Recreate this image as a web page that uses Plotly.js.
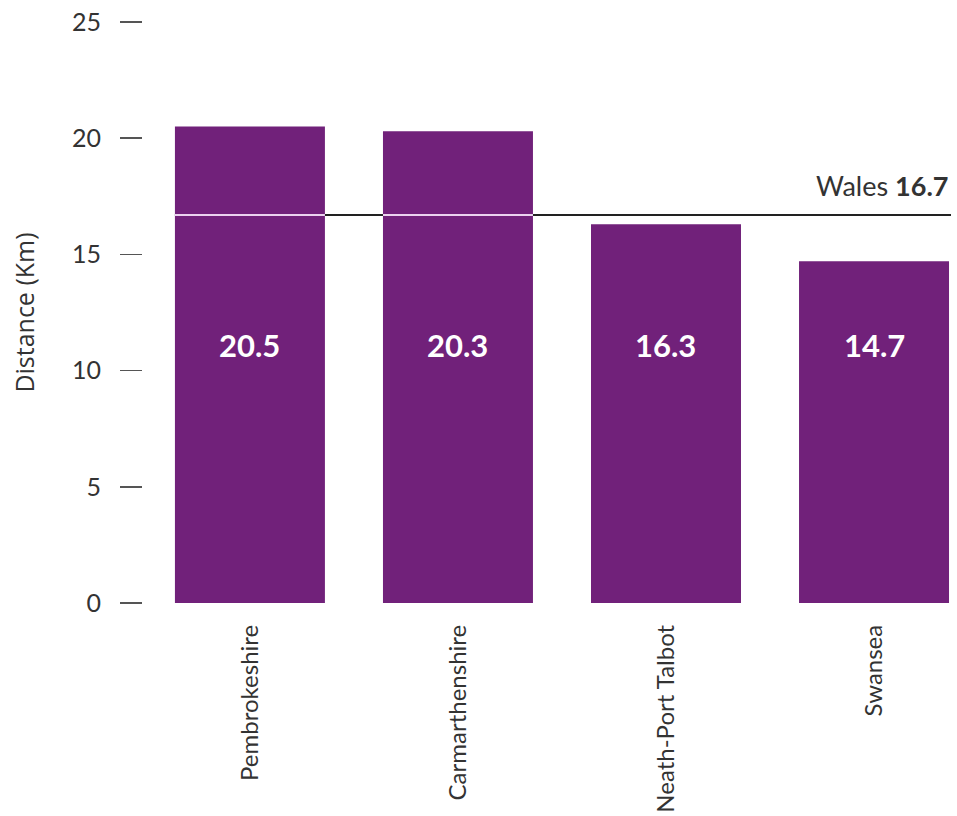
<!DOCTYPE html>
<html>
<head>
<meta charset="utf-8">
<script src="https://cdn.plot.ly/plotly-3.0.1.min.js"></script>
<style>html,body{margin:0;padding:0;background:#fff;}#chart{width:957px;height:816px;}</style>
</head>
<body>
<div id="chart"></div>
<script>
const categories = ["Pembrokeshire", "Carmarthenshire", "Neath-Port Talbot", "Swansea"];
const distances = [20.5, 20.3, 16.3, 14.7];
const valueLabels = ["20.5", "20.3", "16.3", "14.7"];
const walesAverage = 16.7;
const walesLabel = "Wales";
const yTicks = [0, 5, 10, 15, 20, 25];

const barColor = "#71217a";
const bargap = 0.279;
const barWidth = 1 - bargap;
const xRange = [-0.514, 3.37];
const labelY = 11.1;

const shapes = [];
shapes.push({type: "line", xref: "x", yref: "y", layer: "below",
  x0: 0 - barWidth / 2, x1: xRange[1], y0: walesAverage, y1: walesAverage,
  line: {color: "#222222", width: 2}});
distances.forEach((v, i) => {
  if (v > walesAverage) {
    shapes.push({type: "line", xref: "x", yref: "y", layer: "above",
      x0: i - barWidth / 2, x1: i + barWidth / 2, y0: walesAverage, y1: walesAverage,
      line: {color: "#ecd2f0", width: 2}});
  }
});

const annotations = valueLabels.map((t, i) => ({
  x: i, y: labelY, xref: "x", yref: "y", text: t, showarrow: false,
  font: {family: "Lato, sans-serif", size: 31, color: "#ffffff", weight: 700}
}));
annotations.push({
  x: xRange[1], y: walesAverage, xref: "x", yref: "y", xanchor: "right", yanchor: "middle",
  yshift: 29, text: walesLabel + " <b>" + walesAverage.toFixed(1) + "</b>", showarrow: false,
  font: {family: "Lato, sans-serif", size: 27, color: "#333333"}
});

const trace = {
  type: "bar", x: categories, y: distances,
  marker: {color: barColor, line: {width: 0}},
  hoverinfo: "x+y"
};

const layout = {
  width: 957, height: 816,
  margin: {l: 143, r: 6, t: 22, b: 213},
  paper_bgcolor: "#ffffff", plot_bgcolor: "#ffffff",
  showlegend: false,
  bargap: bargap,
  font: {family: "Lato, sans-serif", color: "#333333"},
  xaxis: {
    range: xRange, showgrid: false, zeroline: false, showline: false,
    ticks: "", tickangle: -90, ticklabelstandoff: 16,
    tickfont: {family: "Lato, sans-serif", size: 24, color: "#333333"}
  },
  yaxis: {
    range: [0, 25], tickvals: yTicks, showgrid: false, zeroline: false, showline: false,
    ticks: "outside", ticklen: 22, tickwidth: 1.5, tickcolor: "#555555",
    ticklabelstandoff: 14,
    tickfont: {family: "Lato, sans-serif", size: 25, color: "#333333"},
    title: {text: "Distance (Km)", standoff: 30,
      font: {family: "Open Sans, sans-serif", size: 25, color: "#333333"}}
  },
  shapes: shapes,
  annotations: annotations
};

Plotly.newPlot("chart", [trace], layout, {displayModeBar: false, staticPlot: true});
</script>
</body>
</html>
